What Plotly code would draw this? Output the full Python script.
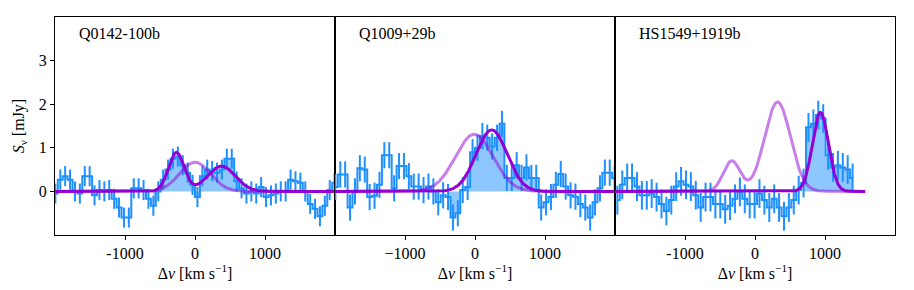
import numpy as np
import plotly.graph_objects as go

# ---------------- data ----------------
names = ["Q0142-100b", "Q1009+29b", "HS1549+1919b"]
bin_width = 70          # km/s
v_start = [-1995, -1995, -1966]

flux_q0142 = [-0.05, 0.27, 0.35, 0.27, 0.0, -0.05, 0.35, 0.35, -0.09, 0.03,
              0.0, 0.03, -0.17, -0.37, -0.6, -0.6, 0.07, 0.07, 0.03, -0.17,
              -0.33, 0.0, 0.27, 0.5, 0.75, 0.8, 0.6, 0.43, 0.15, -0.13,
              0.35, 0.5, 0.47, 0.43, 0.5, 0.75, 0.75, 0.23, 0.07, -0.05,
              0.0, -0.05, 0.1, -0.13, -0.09, -0.05, 0.0, 0.0, 0.27, 0.23,
              0.2, 0.0, -0.29, -0.4, -0.57, -0.33, 0.03, 0.2]
flux_q1009 = [0.1, 0.39, 0.39, -0.37, 0.0, 0.53, 0.5, -0.13, -0.1, 0.15,
              0.83, 0.83, 0.07, 0.58, 0.58, 0.35, 0.11, 0.11, 0.03, 0.11,
              0.0, -0.25, -0.09, -0.13, -0.6, -0.5, 0.03, 0.1, 0.9, 1.0,
              1.27, 1.23, 1.03, 1.23, 1.55, 0.31, 0.31, 0.6, 0.31, 0.55,
              0.31, 0.31, -0.37, -0.25, -0.13, 0.15, 0.4, 0.11, -0.09, -0.12,
              -0.29, -0.37, -0.6, -0.25, 0.07, 0.43, 0.43, 0.3]
flux_hs1549 = [-0.2, 0.15, 0.31, 0.31, 0.11, -0.09, -0.09, -0.05, -0.13, -0.29,
               -0.45, -0.2, 0.11, 0.23, 0.15, 0.11, -0.09, -0.37, -0.13, -0.13,
               -0.29, -0.29, -0.41, -0.33, -0.17, -0.01, -0.17, -0.29, -0.29, -0.05,
               -0.2, -0.37, -0.17, -0.37, -0.57, -0.37, -0.2, 0.03, 0.19, 1.47,
               1.55, 1.75, 1.67, 0.83, 0.55, 0.6, 0.55, 0.5, 0.31]
fluxes = [flux_q0142, flux_q1009, flux_hs1549]
flux_err = [0.23, 0.30, 0.33]

fill_range = [(-640, 800), (-440, 940), (660, 1400)]

# Gaussian fit components (amplitude mJy, centre km/s, sigma km/s)
fit_dark = [[(0.89, -267, 113), (0.58, 376, 200)],
            [(1.41, 237, 222)],
            [(1.81, 935, 115)]]
fit_light = [[(0.67, 0, 220)],
             [(1.31, -10, 270)],
             [(0.70, -332, 120), (2.05, 322, 185)]]
model_range = [(-2000, 2000), (-2000, 2000), (-2000, 1574)]

x_tickvals = [-1000, 0, 1000]
x_ticktext = [["-1000", "0", "1000"], ["\u22121000", "0", "1000"], ["-1000", "0", "1000"]]
y_tickvals = [0, 1, 2, 3]

# ---------------- styles ----------------
BLUE = "#1E90FF"
FILL = "rgba(30,144,255,0.5)"
DARK = "#9400D3"
LIGHT = "rgba(148,0,211,0.5)"
FONT = "Liberation Serif"
FS = 16

fig = go.Figure()


def model(comps, v):
    out = np.zeros_like(v)
    for a, c, s in comps:
        out += a * np.exp(-0.5 * ((v - c) / s) ** 2)
    return out


for p in range(3):
    xa = "x" if p == 0 else f"x{p+1}"
    ya = "y" if p == 0 else f"y{p+1}"
    f = fluxes[p]
    v = [v_start[p] + bin_width * i for i in range(len(f))]
    lo, hi = fill_range[p]
    vf = [vv for vv in v if lo <= vv <= hi]
    ff = [fv for vv, fv in zip(v, f) if lo <= vv <= hi]
    fig.add_trace(go.Scatter(x=vf, y=ff, mode="lines", line=dict(width=0, shape="hvh"),
                             fill="tozeroy", fillcolor=FILL, xaxis=xa, yaxis=ya,
                             showlegend=False, hoverinfo="skip"))
    fig.add_trace(go.Scatter(x=v, y=f, mode="lines", line=dict(color=BLUE, width=2, shape="hvh"),
                             xaxis=xa, yaxis=ya, showlegend=False))
    fig.add_trace(go.Scatter(x=v, y=f, mode="markers", marker=dict(size=1, color=BLUE),
                             error_y=dict(type="constant", value=flux_err[p], color=BLUE,
                                          thickness=2, width=0),
                             xaxis=xa, yaxis=ya, showlegend=False))
    vm = np.linspace(model_range[p][0], model_range[p][1], 600)
    fig.add_trace(go.Scatter(x=vm, y=model(fit_light[p], vm), mode="lines",
                             line=dict(color=LIGHT, width=3), xaxis=xa, yaxis=ya,
                             showlegend=False))
    fig.add_trace(go.Scatter(x=vm, y=model(fit_dark[p], vm), mode="lines",
                             line=dict(color=DARK, width=3), xaxis=xa, yaxis=ya,
                             showlegend=False))

# page body has an 8px default margin: figure is sized to fit the window
layout = dict(
    width=906, height=282,
    margin=dict(l=47, r=19, t=9, b=55, autoexpand=False),
    plot_bgcolor="white", paper_bgcolor="white",
    font=dict(family=FONT, size=FS, color="black"),
)
doms = [[0, 1 / 3], [1 / 3, 2 / 3], [2 / 3, 1]]
for p in range(3):
    xk = "xaxis" if p == 0 else f"xaxis{p+1}"
    yk = "yaxis" if p == 0 else f"yaxis{p+1}"
    layout[xk] = dict(domain=doms[p], range=[-2000, 2000], showline=True, linecolor="black",
                      linewidth=1, mirror=True, ticks="outside", ticklen=4, tickcolor="black",
                      tickvals=x_tickvals, ticktext=x_ticktext[p], showgrid=False, zeroline=False,
                      automargin=False,
                      anchor="y" if p == 0 else f"y{p+1}",
                      title=dict(text="\u0394<i>v</i> [km s<sup>\u22121</sup>]", standoff=4,
                                 font=dict(family=FONT, size=FS)),
                      tickfont=dict(family=FONT, size=FS))
    ydict = dict(domain=[0, 1], range=[-1, 4], showline=True, linecolor="black", linewidth=1,
                 mirror=True, showgrid=False, zeroline=False, automargin=False,
                 anchor="x" if p == 0 else f"x{p+1}")
    if p == 0:
        ydict.update(ticks="outside", ticklen=4, tickcolor="black", tickvals=y_tickvals,
                     tickfont=dict(family=FONT, size=FS),
                     title=dict(text="<i>S</i><sub>\u03bd</sub> [mJy]", standoff=10,
                                font=dict(family=FONT, size=FS)))
    else:
        ydict.update(showticklabels=False, ticks="", matches="y")
    layout[yk] = ydict

annots = []
for p in range(3):
    annots.append(dict(text=names[p], xref=("x" if p == 0 else f"x{p+1}") + " domain",
                       yref="paper", x=22 / 280, y=1 - 16 / 210, xanchor="left",
                       yanchor="middle", showarrow=False,
                       font=dict(family=FONT, size=FS)))
layout["annotations"] = annots
fig.update_layout(**layout)
fig.write_html("out.html")
